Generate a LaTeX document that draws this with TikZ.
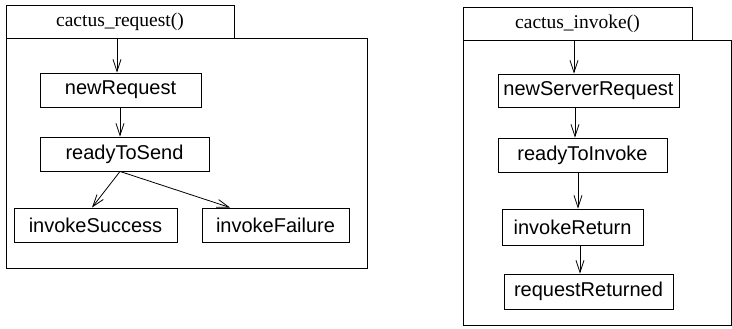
\documentclass[tikz,border=0pt]{standalone}
\usepackage{fontspec}
\setmainfont{Liberation Serif}
\newfontfamily\boxfont{Liberation Sans}
\usetikzlibrary{arrows.meta}
\begin{document}
\begin{tikzpicture}[x=1pt,y=-1pt,line width=0.9pt,
  state/.style={draw,rectangle,inner sep=0pt,font=\boxfont\fontsize{20}{23}\selectfont},
  tab/.style={draw,rectangle,inner sep=0pt,minimum width=229pt,minimum height=33pt,font=\fontsize{19.5}{22}\selectfont},
  arr/.style={-{Straight Barb[length=12pt,width=8pt,line width=0.8pt]},line width=0.8pt}]
\useasboundingbox (0,0) rectangle (732,329);
% left panel
\draw (6,38) rectangle (367,268);
\node[tab,minimum width=228pt] (ltab) at (120,21.5) {cactus\_request()};
\coordinate (lstart) at (117,38);
\node[state,minimum width=161pt,minimum height=34pt] (nr) at (120.5,90) {newRequest};
\node[state,minimum width=169pt,minimum height=34pt] (rs) at (124.5,154) {readyToSend};
\node[state,minimum width=163pt,minimum height=34pt] (is) at (95.5,225) {invokeSuccess};
\node[state,minimum width=147pt,minimum height=34pt] (if) at (275.5,225) {invokeFailure};
\draw[arr] (lstart) -- (lstart |- nr.north);
\draw[arr] ([xshift=-0.5pt]nr.south) -- ([xshift=-0.5pt]nr.south |- rs.north);
\draw[arr] ([xshift=-4.5pt]rs.south) -- ([xshift=-3.5pt]is.north);
\draw[arr] ([xshift=-4.5pt]rs.south) -- ([xshift=-45.5pt]if.north);
% right panel
\draw (463,40) rectangle (731,325);
\node[tab] (rtab) at (577.5,23.5) {cactus\_invoke()};
\coordinate (rstart) at (574,40);
\node[state,minimum width=181pt,minimum height=33pt] (nsr) at (588.5,90.5) {newServerRequest};
\node[state,minimum width=169pt,minimum height=34pt] (rti) at (582.5,155) {readyToInvoke};
\node[state,minimum width=141pt,minimum height=36pt] (ir) at (572.5,227) {invokeReturn};
\node[state,minimum width=169pt,minimum height=35pt] (rr) at (588.5,291.5) {requestReturned};
\draw[arr] (rstart) -- (rstart |- nsr.north);
\draw[arr] ([xshift=-13.5pt]nsr.south) -- ([xshift=-13.5pt]nsr.south |- rti.north);
\draw[arr] ([xshift=-4.5pt]rti.south) -- ([xshift=-4.5pt]rti.south |- ir.north);
\draw[arr] ([xshift=7.5pt]ir.south) -- ([xshift=7.5pt]ir.south |- rr.north);
\end{tikzpicture}
\end{document}
